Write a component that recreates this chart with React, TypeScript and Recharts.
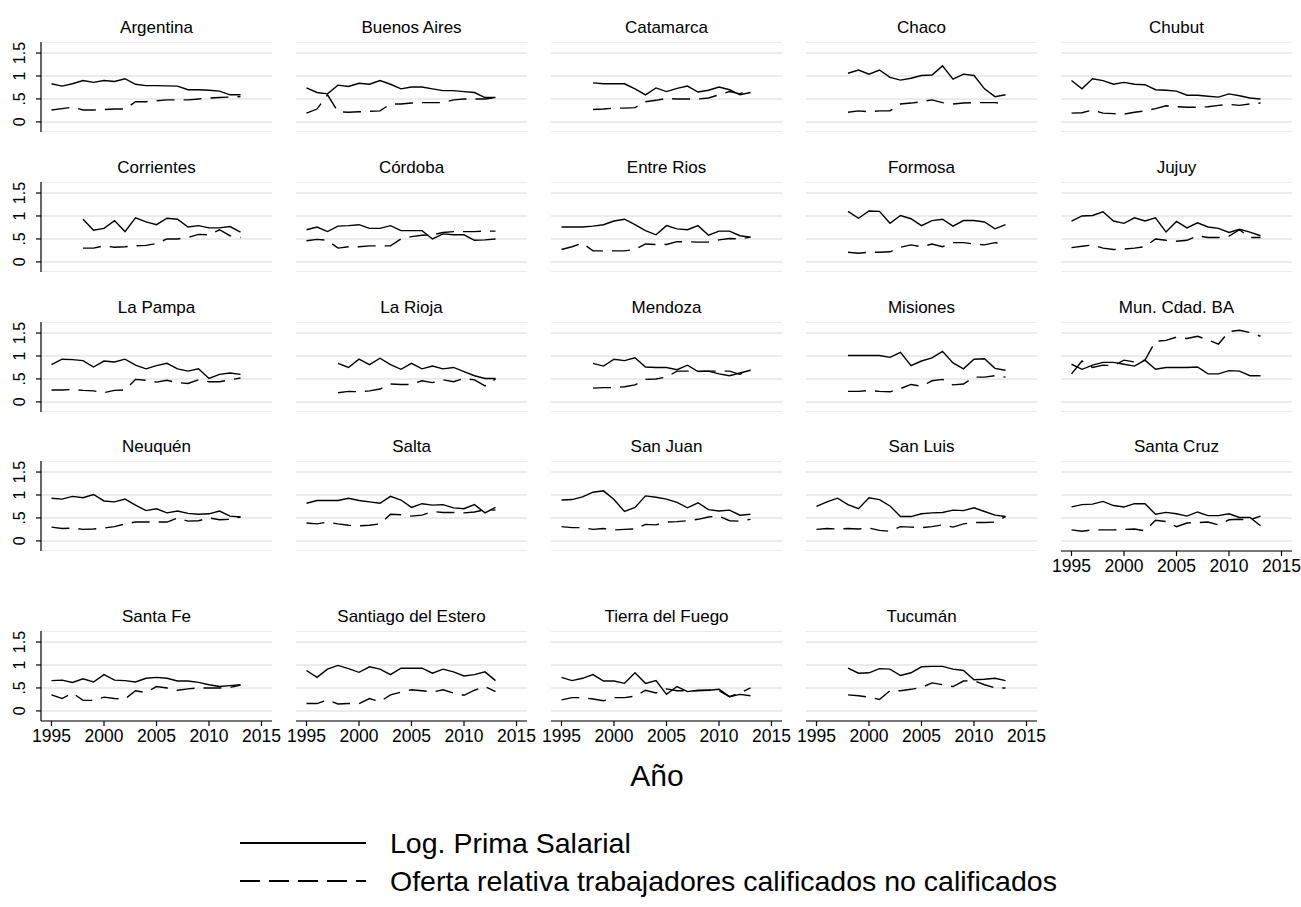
import React from "react";
import { LineChart, Line, XAxis, YAxis, CartesianGrid } from "recharts";

const years = [
  1995, 1996, 1997, 1998, 1999, 2000, 2001, 2002, 2003, 2004, 2005, 2006, 2007,
  2008, 2009, 2010, 2011, 2012, 2013,
];

const provincias = [
  "Argentina", "Buenos Aires", "Catamarca", "Chaco", "Chubut",
  "Corrientes", "Córdoba", "Entre Rios", "Formosa", "Jujuy",
  "La Pampa", "La Rioja", "Mendoza", "Misiones", "Mun. Cdad. BA",
  "Neuquén", "Salta", "San Juan", "San Luis", "Santa Cruz",
  "Santa Fe", "Santiago del Estero", "Tierra del Fuego", "Tucumán",
];

const _ = null;

// Log. Prima Salarial, one row per provincia (same order)
const primaSalarial: (number | null)[][] = [
  [0.83, 0.78, 0.83, 0.9, 0.86, 0.9, 0.88, 0.94, 0.82, 0.79, 0.79, 0.785, 0.78, 0.7, 0.7, 0.69, 0.67, 0.59, 0.59],
  [0.74, 0.64, 0.61, 0.8, 0.77, 0.84, 0.82, 0.9, 0.82, 0.72, 0.76, 0.76, 0.72, 0.68, 0.68, 0.66, 0.64, 0.53, 0.53],
  [_, _, _, 0.85, 0.83, 0.83, 0.83, 0.72, 0.59, 0.74, 0.66, 0.73, 0.78, 0.65, 0.69, 0.76, 0.7, 0.59, 0.64],
  [_, _, _, 1.06, 1.13, 1.04, 1.13, 0.97, 0.91, 0.95, 1.01, 1.02, 1.22, 0.93, 1.04, 1.01, 0.72, 0.55, 0.59],
  [0.9, 0.72, 0.94, 0.9, 0.82, 0.86, 0.82, 0.81, 0.7, 0.69, 0.67, 0.58, 0.58, 0.56, 0.54, 0.61, 0.57, 0.52, 0.5],
  [_, _, _, 0.93, 0.69, 0.73, 0.9, 0.66, 0.96, 0.87, 0.81, 0.95, 0.93, 0.76, 0.79, 0.74, 0.74, 0.77, 0.65],
  [0.7, 0.76, 0.66, 0.78, 0.79, 0.81, 0.73, 0.73, 0.79, 0.68, 0.68, 0.68, 0.5, 0.61, 0.59, 0.59, 0.47, 0.48, 0.5],
  [0.76, 0.76, 0.76, 0.78, 0.81, 0.89, 0.93, 0.81, 0.68, 0.59, 0.79, 0.72, 0.7, 0.79, 0.58, 0.67, 0.67, 0.57, 0.54],
  [_, _, _, 1.1, 0.95, 1.11, 1.1, 0.84, 1.01, 0.94, 0.79, 0.9, 0.93, 0.78, 0.9, 0.9, 0.87, 0.72, 0.81],
  [0.89, 1.0, 1.01, 1.09, 0.89, 0.84, 0.96, 0.89, 0.96, 0.65, 0.88, 0.74, 0.85, 0.76, 0.73, 0.64, 0.71, 0.65, 0.57],
  [0.81, 0.93, 0.92, 0.9, 0.76, 0.89, 0.87, 0.93, 0.8, 0.72, 0.79, 0.84, 0.72, 0.67, 0.72, 0.51, 0.6, 0.63, 0.6],
  [_, _, _, 0.84, 0.75, 0.93, 0.81, 0.95, 0.81, 0.71, 0.84, 0.72, 0.78, 0.72, 0.75, 0.66, 0.57, 0.51, 0.51],
  [_, _, _, 0.84, 0.78, 0.93, 0.9, 0.96, 0.76, 0.75, 0.75, 0.7, 0.8, 0.66, 0.67, 0.61, 0.57, 0.63, 0.69],
  [_, _, _, 1.01, 1.01, 1.01, 1.01, 0.97, 1.08, 0.79, 0.89, 0.96, 1.1, 0.85, 0.72, 0.93, 0.94, 0.73, 0.69],
  [0.82, 0.71, 0.8, 0.86, 0.86, 0.82, 0.78, 0.91, 0.71, 0.75, 0.75, 0.75, 0.76, 0.61, 0.61, 0.68, 0.67, 0.57, 0.57],
  [0.93, 0.91, 0.97, 0.94, 1.01, 0.87, 0.85, 0.91, 0.78, 0.66, 0.7, 0.61, 0.65, 0.6, 0.58, 0.59, 0.65, 0.54, 0.52],
  [0.82, 0.88, 0.88, 0.88, 0.93, 0.88, 0.85, 0.82, 0.97, 0.89, 0.73, 0.81, 0.78, 0.79, 0.72, 0.7, 0.79, 0.61, 0.73],
  [0.89, 0.9, 0.96, 1.06, 1.09, 0.9, 0.64, 0.73, 0.98, 0.95, 0.91, 0.84, 0.72, 0.83, 0.68, 0.65, 0.67, 0.56, 0.58],
  [0.75, 0.85, 0.93, 0.79, 0.7, 0.94, 0.9, 0.76, 0.53, 0.53, 0.59, 0.61, 0.62, 0.67, 0.66, 0.72, 0.64, 0.56, 0.53],
  [0.74, 0.79, 0.8, 0.86, 0.77, 0.74, 0.81, 0.81, 0.58, 0.62, 0.59, 0.54, 0.63, 0.55, 0.55, 0.59, 0.51, 0.51, 0.33],
  [0.66, 0.67, 0.62, 0.7, 0.63, 0.79, 0.67, 0.66, 0.63, 0.71, 0.73, 0.71, 0.65, 0.65, 0.62, 0.57, 0.53, 0.55, 0.57],
  [0.88, 0.73, 0.91, 0.99, 0.92, 0.84, 0.96, 0.91, 0.79, 0.93, 0.93, 0.93, 0.82, 0.91, 0.85, 0.76, 0.79, 0.85, 0.66],
  [0.73, 0.66, 0.71, 0.79, 0.65, 0.65, 0.6, 0.83, 0.6, 0.66, 0.36, 0.53, 0.42, 0.45, 0.45, 0.47, 0.31, 0.36, 0.33],
  [_, _, _, 0.93, 0.82, 0.83, 0.92, 0.91, 0.77, 0.83, 0.96, 0.97, 0.97, 0.91, 0.88, 0.68, 0.69, 0.71, 0.66],
];

// Oferta relativa trabajadores calificados / no calificados
const ofertaRelativa: (number | null)[][] = [
  [0.26, 0.29, 0.32, 0.26, 0.26, 0.27, 0.28, 0.28, 0.44, 0.44, 0.46, 0.48, 0.48, 0.48, 0.5, 0.52, 0.53, 0.54, 0.55],
  [0.19, 0.28, 0.59, 0.22, 0.21, 0.22, 0.23, 0.24, 0.39, 0.39, 0.41, 0.42, 0.42, 0.42, 0.48, 0.5, 0.5, 0.5, 0.53],
  [_, _, _, 0.27, 0.28, 0.3, 0.3, 0.31, 0.44, 0.47, 0.51, 0.5, 0.5, 0.5, 0.52, 0.59, 0.66, 0.61, 0.72],
  [_, _, _, 0.21, 0.24, 0.22, 0.24, 0.24, 0.39, 0.41, 0.44, 0.48, 0.42, 0.39, 0.41, 0.42, 0.42, 0.42, 0.39],
  [0.19, 0.2, 0.26, 0.19, 0.18, 0.17, 0.21, 0.24, 0.29, 0.35, 0.33, 0.32, 0.32, 0.33, 0.36, 0.38, 0.36, 0.39, 0.41],
  [_, _, _, 0.3, 0.3, 0.35, 0.32, 0.33, 0.35, 0.36, 0.4, 0.5, 0.5, 0.53, 0.6, 0.59, 0.7, 0.57, 0.53],
  [0.46, 0.49, 0.47, 0.3, 0.33, 0.33, 0.35, 0.35, 0.35, 0.5, 0.55, 0.58, 0.59, 0.64, 0.66, 0.66, 0.66, 0.67, 0.67],
  [0.27, 0.33, 0.41, 0.24, 0.24, 0.24, 0.24, 0.27, 0.39, 0.38, 0.38, 0.44, 0.44, 0.43, 0.43, 0.48, 0.51, 0.5, 0.54],
  [_, _, _, 0.21, 0.19, 0.21, 0.21, 0.22, 0.32, 0.37, 0.33, 0.39, 0.33, 0.42, 0.42, 0.39, 0.37, 0.42, 0.39],
  [0.31, 0.34, 0.37, 0.3, 0.27, 0.28, 0.3, 0.33, 0.5, 0.47, 0.45, 0.47, 0.57, 0.53, 0.53, 0.56, 0.7, 0.53, 0.53],
  [0.26, 0.26, 0.27, 0.25, 0.24, 0.2, 0.25, 0.26, 0.49, 0.47, 0.43, 0.47, 0.42, 0.4, 0.48, 0.44, 0.44, 0.48, 0.52],
  [_, _, _, 0.2, 0.23, 0.22, 0.24, 0.28, 0.39, 0.38, 0.38, 0.46, 0.42, 0.48, 0.44, 0.51, 0.48, 0.35, 0.5],
  [_, _, _, 0.3, 0.31, 0.31, 0.33, 0.37, 0.49, 0.5, 0.54, 0.67, 0.67, 0.67, 0.67, 0.67, 0.67, 0.6, 0.7],
  [_, _, _, 0.23, 0.23, 0.25, 0.23, 0.22, 0.29, 0.38, 0.34, 0.46, 0.49, 0.37, 0.39, 0.54, 0.54, 0.57, 0.54],
  [0.61, 0.89, 0.75, 0.8, 0.79, 0.91, 0.87, 0.91, 1.32, 1.34, 1.41, 1.38, 1.43, 1.35, 1.26, 1.53, 1.56, 1.51, 1.43],
  [0.3, 0.27, 0.28, 0.25, 0.26, 0.28, 0.31, 0.37, 0.41, 0.41, 0.41, 0.41, 0.5, 0.43, 0.44, 0.5, 0.46, 0.47, 0.52],
  [0.39, 0.37, 0.41, 0.37, 0.34, 0.33, 0.34, 0.37, 0.58, 0.57, 0.54, 0.56, 0.64, 0.62, 0.62, 0.61, 0.63, 0.68, 0.67],
  [0.31, 0.29, 0.29, 0.25, 0.27, 0.24, 0.25, 0.26, 0.36, 0.35, 0.41, 0.42, 0.44, 0.47, 0.52, 0.54, 0.44, 0.43, 0.47],
  [0.25, 0.27, 0.26, 0.27, 0.26, 0.28, 0.23, 0.21, 0.31, 0.3, 0.29, 0.31, 0.35, 0.3, 0.37, 0.4, 0.4, 0.41, 0.53],
  [0.24, 0.21, 0.24, 0.24, 0.24, 0.25, 0.26, 0.22, 0.45, 0.42, 0.31, 0.39, 0.4, 0.41, 0.35, 0.46, 0.47, 0.46, 0.54],
  [0.35, 0.27, 0.39, 0.23, 0.23, 0.3, 0.27, 0.26, 0.44, 0.4, 0.53, 0.5, 0.45, 0.48, 0.5, 0.5, 0.5, 0.51, 0.56],
  [0.16, 0.16, 0.24, 0.15, 0.16, 0.16, 0.27, 0.2, 0.35, 0.41, 0.46, 0.44, 0.41, 0.46, 0.39, 0.34, 0.45, 0.53, 0.42],
  [0.24, 0.29, 0.29, 0.26, 0.22, 0.29, 0.29, 0.32, 0.45, 0.39, 0.48, 0.44, 0.44, 0.44, 0.45, 0.44, 0.31, 0.39, 0.5],
  [_, _, _, 0.35, 0.33, 0.3, 0.25, 0.44, 0.44, 0.47, 0.51, 0.61, 0.57, 0.53, 0.65, 0.66, 0.57, 0.5, 0.5],
];

const yTicks = [0, 0.5, 1, 1.5];
const yTickLabels = ["0", ".5", "1", "1.5"];
const xTicks = [1995, 2000, 2005, 2010, 2015];
const xTitle = "Año";
const legendLabels = [
  "Log. Prima Salarial",
  "Oferta relativa trabajadores calificados no calificados",
];

const FONT = "'Liberation Sans', Arial, Helvetica, sans-serif";
const NARROW = "'Liberation Sans Narrow', 'Arial Narrow', 'Liberation Sans', sans-serif";

// panel layout
const COL_X = [41, 296, 551, 806, 1061];
const ROW_Y = [42, 182, 322, 461, 631];
const PLOT_W = 231;
const PLOT_H = 90;
const Y_AXIS_W = 41;
const X_AXIS_H = 40;
const RIGHT_PAD = 22;
const DASH = "18 9";

const YTick = (props: any) => {
  const { x, y, payload } = props;
  const label = yTickLabels[yTicks.indexOf(payload.value)];
  const bx = x - 9;
  return (
    <text
      x={bx}
      y={y}
      transform={`rotate(-90 ${bx} ${y})`}
      textAnchor="middle"
      fontSize={16}
      fontFamily={NARROW}
      fill="#000"
    >
      {label}
    </text>
  );
};

const Panel = ({ idx }: { idx: number }) => {
  const row = Math.floor(idx / 5);
  const col = idx % 5;
  const showY = col === 0;
  const showX = row === 4 || (row === 3 && col === 4);
  const data = years.map((year, i) => ({
    year,
    prima: primaSalarial[idx][i],
    oferta: ofertaRelativa[idx][i],
  }));

  return (
    <div style={{ position: "absolute", left: COL_X[col] - Y_AXIS_W, top: ROW_Y[row] }}>
      <LineChart
        width={Y_AXIS_W + PLOT_W + RIGHT_PAD}
        height={PLOT_H + (showX ? X_AXIS_H : 0)}
        data={data}
        margin={{ top: 0, right: RIGHT_PAD, bottom: 0, left: showY ? 0 : Y_AXIS_W }}
      >
        <CartesianGrid vertical={false} stroke="#e6e6e6" strokeWidth={1.5} />
        <XAxis
          dataKey="year"
          type="number"
          domain={[1994, 2016]}
          ticks={xTicks}
          interval={0}
          hide={!showX}
          height={X_AXIS_H}
          axisLine={{ stroke: "#000", strokeWidth: 1.2 }}
          tickLine={{ stroke: "#000", strokeWidth: 1.2 }}
          tickSize={5}
          tickMargin={4}
          tick={{ fontSize: 17.5, fontFamily: NARROW, fill: "#000" }}
        />
        <YAxis
          type="number"
          domain={[-0.22, 1.74]}
          allowDataOverflow
          ticks={yTicks}
          interval={0}
          hide={!showY}
          width={Y_AXIS_W}
          axisLine={{ stroke: "#000", strokeWidth: 1.2 }}
          tickLine={{ stroke: "#000", strokeWidth: 1.2 }}
          tickSize={5}
          tickMargin={2}
          tick={<YTick />}
        />
        <Line
          dataKey="prima"
          type="linear"
          stroke="#000"
          strokeWidth={1.4}
          dot={false}
          isAnimationActive={false}
        />
        <Line
          dataKey="oferta"
          type="linear"
          stroke="#000"
          strokeWidth={1.4}
          strokeDasharray={DASH}
          dot={false}
          isAnimationActive={false}
        />
      </LineChart>
    </div>
  );
};

const App = () => {
  return (
    <div
      style={{
        position: "absolute",
        left: 0,
        top: 0,
        width: 1301,
        height: 907,
        background: "#fff",
        fontFamily: FONT,
      }}
    >
      <svg width={1301} height={907} style={{ position: "absolute", left: 0, top: 0 }}>
        {provincias.map((name, idx) => (
          <text
            key={name}
            x={COL_X[idx % 5] + PLOT_W / 2}
            y={ROW_Y[Math.floor(idx / 5)] - 9}
            textAnchor="middle"
            fontSize={17}
            fontFamily={FONT}
            fill="#000"
          >
            {name}
          </text>
        ))}
        <text x={657} y={786} textAnchor="middle" fontSize={30} fontFamily={FONT} fill="#000">
          {xTitle}
        </text>
        <line x1={240} x2={366} y1={843} y2={843} stroke="#000" strokeWidth={2} />
        <text x={390} y={853} fontSize={28.5} fontFamily={FONT} fill="#000">
          {legendLabels[0]}
        </text>
        <line x1={240} x2={366} y1={881} y2={881} stroke="#000" strokeWidth={2} strokeDasharray="20 9" />
        <text x={390} y={891} fontSize={28.5} fontFamily={FONT} fill="#000">
          {legendLabels[1]}
        </text>
      </svg>
      {provincias.map((name, idx) => (
        <Panel key={name} idx={idx} />
      ))}
    </div>
  );
};

export default App;
